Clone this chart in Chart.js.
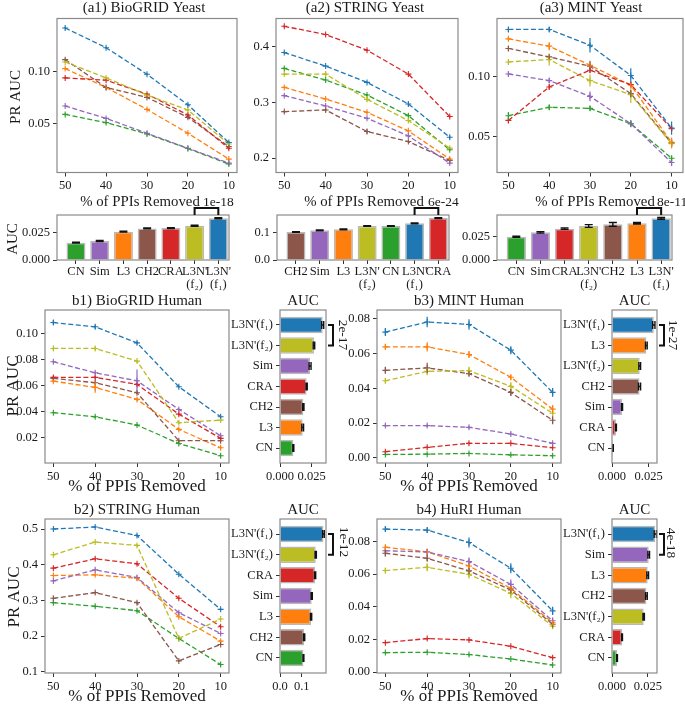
<!DOCTYPE html>
<html>
<head>
<meta charset="utf-8">
<script src="https://cdn.jsdelivr.net/npm/chart.js@4.4.0/dist/chart.umd.min.js"></script>
<style>
  body { margin: 0; background: #fff; }
  #fig { position: relative; width: 685px; height: 706px; }
  #fig canvas { position: absolute; left: 0; top: 0; }
</style>
</head>
<body>
<div id="fig"></div>
<script>
/* Datos */

const removedPct = [50, 40, 30, 20, 10];
// filas de cada matriz PR AUC: L3N'(f1), L3N'(f2), Sim, CRA, CH2, L3, CN
const methodKeys = ["L3N'(f1)", "L3N'(f2)", "Sim", "CRA", "CH2", "L3", "CN"];

const biogridYeastPR = [
  [0.141, 0.1223, 0.0972, 0.0682, 0.0324],
  [0.1088, 0.0937, 0.0774, 0.0632, 0.031],
  [0.067, 0.0553, 0.0412, 0.027, 0.0129],
  [0.0937, 0.0915, 0.0783, 0.0585, 0.027],
  [0.111, 0.0846, 0.0752, 0.0563, 0.0286],
  [0.1025, 0.0846, 0.0638, 0.0412, 0.0167],
  [0.0591, 0.0513, 0.0406, 0.0267, 0.012]
];
const biogridYeastErr = [
  [0.0012, 0.001, 0.001, 0.0012, 0.0012],
  [0.001, 0.0012, 0.001, 0.0012, 0.001],
  [0.0008, 0.0008, 0.0008, 0.0008, 0.0008],
  [0.001, 0.001, 0.001, 0.0015, 0.0012],
  [0.0012, 0.001, 0.001, 0.0015, 0.0015],
  [0.0008, 0.0008, 0.0008, 0.0008, 0.0008],
  [0.0008, 0.0008, 0.0008, 0.0008, 0.0008]
];
const stringYeastPR = [
  [0.3898, 0.3654, 0.3361, 0.2973, 0.2375],
  [0.351, 0.351, 0.3056, 0.2674, 0.2178],
  [0.3122, 0.2937, 0.2716, 0.2399, 0.1909],
  [0.437, 0.4221, 0.394, 0.351, 0.2746],
  [0.2835, 0.2865, 0.2477, 0.2297, 0.1957],
  [0.3271, 0.3062, 0.2823, 0.2489, 0.1981],
  [0.3612, 0.3403, 0.3134, 0.2763, 0.2148]
];
const stringYeastErr = [
  [0.002, 0.002, 0.002, 0.003, 0.003],
  [0.002, 0.004, 0.004, 0.003, 0.002],
  [0.002, 0.002, 0.002, 0.002, 0.002],
  [0.002, 0.002, 0.002, 0.002, 0.002],
  [0.002, 0.003, 0.004, 0.002, 0.002],
  [0.002, 0.002, 0.002, 0.002, 0.002],
  [0.002, 0.002, 0.002, 0.002, 0.002]
];
const mintYeastPR = [
  [0.1389, 0.1389, 0.1258, 0.1006, 0.0569],
  [0.1119, 0.1139, 0.0964, 0.0847, 0.0439],
  [0.1019, 0.0964, 0.0833, 0.0606, 0.0283],
  [0.0633, 0.0911, 0.105, 0.0931, 0.0564],
  [0.1231, 0.1161, 0.1083, 0.0856, 0.0444],
  [0.1311, 0.125, 0.1092, 0.0925, 0.045],
  [0.0672, 0.0742, 0.0733, 0.0606, 0.0319]
];
const mintYeastErr = [
  [0.002, 0.002, 0.006, 0.006, 0.0055],
  [0.002, 0.005, 0.005, 0.007, 0.004],
  [0.002, 0.002, 0.004, 0.003, 0.003],
  [0.002, 0.002, 0.002, 0.002, 0.002],
  [0.002, 0.002, 0.0045, 0.003, 0.003],
  [0.0017, 0.0033, 0.0022, 0.0022, 0.004],
  [0.003, 0.002, 0.002, 0.002, 0.002]
];
const biogridHumanPR = [
  [0.1084, 0.1051, 0.0928, 0.0591, 0.0361],
  [0.0885, 0.0885, 0.0788, 0.0315, 0.0335],
  [0.0783, 0.0698, 0.0637, 0.0417, 0.0215],
  [0.0663, 0.0663, 0.0609, 0.0381, 0.0195],
  [0.0655, 0.0622, 0.0545, 0.0177, 0.0177],
  [0.0634, 0.0586, 0.0494, 0.0264, 0.0123],
  [0.0392, 0.0361, 0.0297, 0.0156, 0.0062]
];
const biogridHumanErr = [
  [0.002, 0.0015, 0.0012, 0.001, 0.001],
  [0.0015, 0.0015, 0.001, 0.001, 0.001],
  [0.001, 0.001, 0.0087, 0.001, 0.001],
  [0.001, 0.001, 0.001, 0.001, 0.001],
  [0.001, 0.001, 0.001, 0.001, 0.001],
  [0.001, 0.004, 0.001, 0.001, 0.001],
  [0.0008, 0.0008, 0.0008, 0.0008, 0.0008]
];
const mintHumanPR = [
  [0.0723, 0.0781, 0.0767, 0.0619, 0.0376],
  [0.0443, 0.0497, 0.0501, 0.0411, 0.0256],
  [0.0185, 0.0185, 0.0175, 0.0137, 0.0083],
  [0.0035, 0.006, 0.0083, 0.0083, 0.0058],
  [0.0503, 0.0517, 0.0484, 0.0376, 0.0216],
  [0.0638, 0.0638, 0.0594, 0.0463, 0.028],
  [0.0019, 0.0021, 0.0025, 0.0017, 0.0012]
];
const mintHumanErr = [
  [0.0023, 0.003, 0.003, 0.0023, 0.0025],
  [0.0015, 0.0023, 0.0023, 0.0023, 0.002],
  [0.0008, 0.0008, 0.0008, 0.0008, 0.0008],
  [0.0005, 0.0005, 0.0005, 0.0005, 0.0005],
  [0.002, 0.003, 0.0015, 0.002, 0.0023],
  [0.0015, 0.0027, 0.002, 0.0015, 0.0023],
  [0.0005, 0.0005, 0.0005, 0.0005, 0.0005]
];
const stringHumanPR = [
  [0.5, 0.5056, 0.482, 0.3735, 0.2752],
  [0.4279, 0.4635, 0.4541, 0.1937, 0.248],
  [0.3548, 0.3857, 0.3642, 0.2658, 0.2077],
  [0.3904, 0.4166, 0.4026, 0.3061, 0.2265],
  [0.3061, 0.322, 0.2939, 0.1309, 0.1768],
  [0.3698, 0.3717, 0.3623, 0.2546, 0.1862],
  [0.2939, 0.2836, 0.2714, 0.1937, 0.1206]
];
const stringHumanErr = [
  [0.003, 0.003, 0.003, 0.003, 0.003],
  [0.003, 0.003, 0.003, 0.003, 0.003],
  [0.003, 0.003, 0.003, 0.003, 0.003],
  [0.003, 0.003, 0.003, 0.003, 0.003],
  [0.003, 0.003, 0.003, 0.003, 0.003],
  [0.003, 0.003, 0.003, 0.003, 0.003],
  [0.003, 0.003, 0.003, 0.003, 0.003]
];
const huriHumanPR = [
  [0.0876, 0.087, 0.0794, 0.0636, 0.0375],
  [0.0622, 0.0642, 0.0599, 0.0482, 0.0281],
  [0.0743, 0.0736, 0.0677, 0.0537, 0.0314],
  [0.018, 0.0205, 0.0197, 0.0158, 0.0088],
  [0.0728, 0.0697, 0.062, 0.0503, 0.0293],
  [0.0765, 0.0737, 0.065, 0.0513, 0.0302],
  [0.0119, 0.0121, 0.0107, 0.008, 0.0043]
];
const huriHumanErr = [
  [0.0016, 0.0016, 0.003, 0.003, 0.0025],
  [0.0016, 0.0025, 0.0025, 0.003, 0.0016],
  [0.002, 0.002, 0.0025, 0.003, 0.002],
  [0.0005, 0.0005, 0.0005, 0.0005, 0.0005],
  [0.002, 0.002, 0.002, 0.002, 0.002],
  [0.0015, 0.0015, 0.0015, 0.0015, 0.0015],
  [0.0005, 0.0005, 0.0005, 0.0005, 0.0005]
];

// AUC (barras)
const biogridYeastAucNames = ["CN", "Sim", "L3", "CH2", "CRA", "L3N'(f2)", "L3N'(f1)"];
const biogridYeastAuc = [0.0157, 0.0172, 0.0256, 0.0286, 0.0289, 0.031, 0.0377];
const biogridYeastAucErr = [0.0004, 0.0004, 0.0004, 0.0004, 0.0004, 0.0005, 0.0005];
const stringYeastAucNames = ["CH2", "Sim", "L3", "L3N'(f2)", "CN", "L3N'(f1)", "CRA"];
const stringYeastAuc = [0.1012, 0.1072, 0.1108, 0.1229, 0.1229, 0.1325, 0.1518];
const stringYeastAucErr = [0.0015, 0.0015, 0.0015, 0.0015, 0.0015, 0.0015, 0.0015];
const mintYeastAucNames = ["CN", "Sim", "CRA", "L3N'(f2)", "CH2", "L3", "L3N'(f1)"];
const mintYeastAuc = [0.025, 0.0296, 0.0336, 0.0364, 0.0382, 0.0393, 0.0446];
const mintYeastAucErr = [0.0006, 0.0008, 0.0008, 0.0015, 0.002, 0.0008, 0.001];
const biogridHumanAucNames = ["L3N'(f1)", "L3N'(f2)", "Sim", "CRA", "CH2", "L3", "CN"];
const biogridHumanAuc = [0.0337, 0.0268, 0.0237, 0.021, 0.0184, 0.0179, 0.0105];
const biogridHumanAucErr = [0.0008, 0.0006, 0.0008, 0.0005, 0.0005, 0.0007, 0.0004];
const mintHumanAucNames = ["L3N'(f1)", "L3", "L3N'(f2)", "CH2", "Sim", "CRA", "CN"];
const mintHumanAuc = [0.0285, 0.0234, 0.0189, 0.0188, 0.0068, 0.0027, 0.0007];
const mintHumanAucErr = [0.0008, 0.0006, 0.0006, 0.0007, 0.0004, 0.0003, 0.0002];
const stringHumanAucNames = ["L3N'(f1)", "L3N'(f2)", "CRA", "Sim", "L3", "CH2", "CN"];
const stringHumanAuc = [0.2, 0.1646, 0.1615, 0.146, 0.143, 0.111, 0.108];
const stringHumanAucErr = [0.004, 0.003, 0.003, 0.003, 0.003, 0.003, 0.002];
const huriHumanAucNames = ["L3N'(f1)", "Sim", "L3", "CH2", "L3N'(f2)", "CRA", "CN"];
const huriHumanAuc = [0.0302, 0.0256, 0.0249, 0.024, 0.0221, 0.007, 0.0035];
const huriHumanAucErr = [0.0008, 0.0006, 0.0006, 0.0006, 0.0005, 0.0003, 0.0003];

// ticks
const yeastSmallTicks = [0.05, 0.10];
const stringYeastTicks = [0.2, 0.3, 0.4];
const biogridHumanTicks = [0.02, 0.04, 0.06, 0.08, 0.10];
const humanSmallTicks = [0.00, 0.02, 0.04, 0.06, 0.08];
const stringHumanTicks = [0.1, 0.2, 0.3, 0.4, 0.5];
const aucSmallTicks = [0.000, 0.025];
const aucLargeTicks = [0.0, 0.1];

/* ============================== */

const W = 685, H = 706;
const YW = 40, XH = 26;
const FONT = 'Liberation Serif';
const methodColor = {
  "L3N'(f1)": '#1f77b4', "L3N'(f2)": '#bcbd22', "Sim": '#9467bd', "CRA": '#d62728',
  "CH2": '#8c564b', "L3": '#ff7f0e', "CN": '#2ca02c'
};

Chart.defaults.font.family = FONT;
Chart.defaults.font.size = 12;
Chart.defaults.color = '#1a1a1a';

let fig = document.getElementById('fig');

function addCanvas() {
  let c = document.createElement('canvas');
  c.width = W;
  c.height = H;
  fig.appendChild(c);
  return c;
}

function methodLabel(n) {
  return n.replace('(f1)', '(f\u2081)').replace('(f2)', '(f\u2082)');
}

function stackedLabel(n) {
  let l = methodLabel(n);
  return l.indexOf("L3N'(") === 0 ? ["L3N'", l.slice(4)] : l;
}

function drawText(ctx, t) {
  ctx.save();
  ctx.font = t.size + 'px "' + FONT + '"';
  ctx.fillStyle = '#1a1a1a';
  ctx.textAlign = t.align || 'center';
  ctx.textBaseline = 'middle';
  ctx.translate(t.x, t.y);
  if (t.rot) ctx.rotate(t.rot * Math.PI / 180);
  ctx.fillText(t.text, 0, 0);
  ctx.restore();
}

function framePlugin(texts, extra) {
  return {
    id: 'frame',
    afterDraw(chart) {
      let ctx = chart.ctx, a = chart.chartArea;
      ctx.save();
      ctx.strokeStyle = '#8a8a8a';
      ctx.lineWidth = 1.2;
      ctx.strokeRect(a.left, a.top, a.right - a.left, a.bottom - a.top);
      ctx.restore();
      texts.forEach(t => drawText(ctx, t));
      if (extra) extra(chart);
    }
  };
}

// barras de error
const errPlugin = {
  id: 'errbars',
  afterDatasetsDraw(chart) {
    let ctx = chart.ctx;
    let horiz = chart.options.indexAxis === 'y';
    chart.data.datasets.forEach((ds, i) => {
      if (!ds.err) return;
      let meta = chart.getDatasetMeta(i);
      let vs = chart.scales[horiz ? 'x' : 'y'];
      ctx.save();
      ctx.strokeStyle = ds.errColor || ds.borderColor;
      ctx.lineWidth = ds.errWidth || 1.2;
      meta.data.forEach((el, j) => {
        let p1 = vs.getPixelForValue(ds.vals[j] - ds.err[j]);
        let p2 = vs.getPixelForValue(ds.vals[j] + ds.err[j]);
        let c = ds.cap || 0;
        ctx.beginPath();
        if (horiz) {
          ctx.moveTo(p1, el.y); ctx.lineTo(p2, el.y);
          if (c) { ctx.moveTo(p1, el.y - c); ctx.lineTo(p1, el.y + c); ctx.moveTo(p2, el.y - c); ctx.lineTo(p2, el.y + c); }
        } else {
          ctx.moveTo(el.x, p1); ctx.lineTo(el.x, p2);
          if (c) { ctx.moveTo(el.x - c, p1); ctx.lineTo(el.x + c, p1); ctx.moveTo(el.x - c, p2); ctx.lineTo(el.x + c, p2); }
        }
        ctx.stroke();
      });
      ctx.restore();
    });
  }
};

function tickGrid() {
  return { display: true, drawOnChartArea: false, drawTicks: true, tickLength: 4, color: '#333', lineWidth: 1, offset: false };
}

function fixScale(size, horizontal) {
  return s => {
    if (horizontal) s.height = size; else s.width = size;
    s.paddingLeft = 0; s.paddingRight = 0; s.paddingTop = 0; s.paddingBottom = 0;
  };
}

function pad(box, yw, xh) {
  return { left: box.l - yw, right: W - box.r, top: box.t, bottom: H - box.b - xh };
}

function setTicks(values) {
  return s => { s.ticks = values.map(v => ({ value: v })); };
}

function lineChart(box, xlim, vals, errs, ylim, yTicks, dec, texts) {
  let datasets = methodKeys.map((m, i) => ({
    label: methodLabel(m),
    data: removedPct.map((x, j) => ({ x: x, y: vals[i][j] })),
    vals: vals[i],
    err: errs[i],
    borderColor: methodColor[m],
    backgroundColor: methodColor[m],
    borderWidth: 1.3,
    borderDash: [5, 2.5],
    pointStyle: 'cross',
    pointRadius: 3,
    pointBorderWidth: 1.1,
    tension: 0,
    fill: false
  }));
  new Chart(addCanvas(), {
    type: 'line',
    data: { datasets: datasets },
    options: {
      responsive: false,
      animation: false,
      layout: { autoPadding: false, padding: pad(box, YW, XH) },
      plugins: { legend: { display: false }, tooltip: { enabled: false } },
      scales: {
        x: {
          type: 'linear', reverse: true, min: xlim[0], max: xlim[1],
          afterBuildTicks: setTicks(removedPct),
          afterFit: fixScale(XH, true),
          grid: tickGrid(), border: { display: false },
          ticks: { font: { size: 12.5 }, padding: 2, maxRotation: 0, autoSkip: false }
        },
        y: {
          type: 'linear', min: ylim[0], max: ylim[1],
          afterBuildTicks: setTicks(yTicks),
          afterFit: fixScale(YW, false),
          grid: tickGrid(), border: { display: false },
          ticks: { font: { size: 12.5 }, padding: 3, callback: v => v.toFixed(dec) }
        }
      }
    },
    plugins: [framePlugin(texts), errPlugin]
  });
}

// barras verticales (fila superior) con corchete arriba
function barChartV(box, names, vals, errs, ymax, yTicks, dec, texts) {
  let bracket = chart => {
    let ctx = chart.ctx, a = chart.chartArea, sx = chart.scales.x;
    let x1 = sx.getPixelForValue(5), x2 = sx.getPixelForValue(6);
    ctx.save();
    ctx.strokeStyle = '#111';
    ctx.lineWidth = 2;
    ctx.beginPath();
    ctx.moveTo(x1, a.top); ctx.lineTo(x1, a.top - 7); ctx.lineTo(x2, a.top - 7); ctx.lineTo(x2, a.top);
    ctx.stroke();
    ctx.restore();
  };
  new Chart(addCanvas(), {
    type: 'bar',
    data: {
      datasets: [{
        data: vals.map((v, i) => ({ x: i, y: v })),
        vals: vals, err: errs, errColor: '#111', errWidth: 1.4, cap: 4,
        backgroundColor: names.map(n => methodColor[n]),
        borderColor: '#b8b8b8', borderWidth: 1.5,
        barPercentage: 0.8, categoryPercentage: 1
      }]
    },
    options: {
      responsive: false,
      animation: false,
      layout: { autoPadding: false, padding: pad(box, YW, 38) },
      plugins: { legend: { display: false }, tooltip: { enabled: false } },
      scales: {
        x: {
          type: 'linear', min: -0.8, max: 6.45, offset: false,
          afterBuildTicks: setTicks(names.map((n, i) => i)),
          afterFit: fixScale(38, true),
          grid: tickGrid(), border: { display: false },
          ticks: { font: { size: 12.5, lineHeight: 1.05 }, padding: 1, maxRotation: 0, autoSkip: false,
                   callback: v => stackedLabel(names[v]) }
        },
        y: {
          type: 'linear', min: 0, max: ymax,
          afterBuildTicks: setTicks(yTicks),
          afterFit: fixScale(YW, false),
          grid: tickGrid(), border: { display: false },
          ticks: { font: { size: 12.5 }, padding: 3, callback: v => v.toFixed(dec) }
        }
      }
    },
    plugins: [framePlugin(texts, bracket), errPlugin]
  });
}

// barras horizontales (filas inferiores) con corchete a la derecha
function barChartH(box, names, vals, errs, xmax, xTicks, dec, texts) {
  let bracket = chart => {
    let ctx = chart.ctx, a = chart.chartArea, sy = chart.scales.y;
    let y1 = sy.getPixelForValue(0), y2 = sy.getPixelForValue(1);
    ctx.save();
    ctx.strokeStyle = '#111';
    ctx.lineWidth = 2;
    ctx.beginPath();
    ctx.moveTo(a.right + 2, y1); ctx.lineTo(a.right + 7, y1); ctx.lineTo(a.right + 7, y2); ctx.lineTo(a.right + 2, y2);
    ctx.stroke();
    ctx.restore();
  };
  new Chart(addCanvas(), {
    type: 'bar',
    data: {
      datasets: [{
        data: vals.map((v, i) => ({ x: v, y: i })),
        vals: vals, err: errs, errColor: '#111', errWidth: 1.4, cap: 4,
        backgroundColor: names.map(n => methodColor[n]),
        borderColor: '#b8b8b8', borderWidth: 1.5,
        barPercentage: 0.8, categoryPercentage: 1
      }]
    },
    options: {
      indexAxis: 'y',
      responsive: false,
      animation: false,
      layout: { autoPadding: false, padding: pad(box, 80, XH) },
      plugins: { legend: { display: false }, tooltip: { enabled: false } },
      scales: {
        y: {
          type: 'linear', reverse: true, min: -0.73, max: 6.73, offset: false,
          afterBuildTicks: setTicks(names.map((n, i) => i)),
          afterFit: fixScale(80, false),
          grid: tickGrid(), border: { display: false },
          ticks: { font: { size: 12.5 }, padding: 3, autoSkip: false, callback: v => methodLabel(names[v]) }
        },
        x: {
          type: 'linear', min: 0, max: xmax,
          afterBuildTicks: setTicks(xTicks),
          afterFit: fixScale(XH, true),
          grid: tickGrid(), border: { display: false },
          ticks: { font: { size: 12.5 }, padding: 2, maxRotation: 0, callback: v => v.toFixed(dec) }
        }
      }
    },
    plugins: [framePlugin(texts, bracket), errPlugin]
  });
}

/* ============================== */

function cargar_figura() {
  // (a) fila superior
  lineChart({ l: 57, r: 237, t: 18.5, b: 172.5 }, [8, 52], biogridYeastPR, biogridYeastErr,
    [0.004, 0.150], yeastSmallTicks, 2, [
      { text: '(a1) BioGRID Yeast', x: 144, y: 8, size: 15 },
      { text: 'PR AUC', x: 16, y: 97, size: 15, rot: -90 },
      { text: '% of PPIs Removed', x: 140, y: 202, size: 14.8 }
    ]);
  lineChart({ l: 276, r: 458, t: 18.5, b: 172.5 }, [8, 52], stringYeastPR, stringYeastErr,
    [0.174, 0.451], stringYeastTicks, 1, [
      { text: '(a2) STRING Yeast', x: 365, y: 8, size: 15 },
      { text: '% of PPIs Removed', x: 364, y: 202, size: 14.8 }
    ]);
  lineChart({ l: 497, r: 683, t: 18.5, b: 172.5 }, [7.2, 52.8], mintYeastPR, mintYeastErr,
    [0.020, 0.148], yeastSmallTicks, 2, [
      { text: '(a3) MINT Yeast', x: 591, y: 8, size: 15 },
      { text: '% of PPIs Removed', x: 595, y: 202, size: 14.8 }
    ]);

  barChartV({ l: 57, r: 229, t: 215, b: 260 }, biogridYeastAucNames, biogridYeastAuc, biogridYeastAucErr,
    0.0407, aucSmallTicks, 3, [
      { text: 'AUC', x: 13, y: 239, size: 15, rot: -90 },
      { text: '1e-18', x: 203, y: 202, size: 13.5, align: 'left' }
    ]);
  barChartV({ l: 277, r: 449, t: 215, b: 260 }, stringYeastAucNames, stringYeastAuc, stringYeastAucErr,
    0.1627, aucLargeTicks, 1, [
      { text: '6e-24', x: 428, y: 202, size: 13.5, align: 'left' }
    ]);
  barChartV({ l: 497, r: 672, t: 215, b: 260 }, mintYeastAucNames, mintYeastAuc, mintYeastAucErr,
    0.0482, aucSmallTicks, 3, [
      { text: '8e-11', x: 657, y: 202, size: 13.5, align: 'left' }
    ]);

  // (b) filas inferiores
  lineChart({ l: 45, r: 229, t: 310, b: 463 }, [8, 52], biogridHumanPR, biogridHumanErr,
    [0.0006, 0.118], biogridHumanTicks, 2, [
      { text: 'b1) BioGRID Human', x: 137, y: 301, size: 15 },
      { text: 'PR AUC', x: 14, y: 386, size: 17, rot: -90 },
      { text: '% of PPIs Removed', x: 137, y: 487, size: 17 }
    ]);
  barChartH({ l: 280, r: 326, t: 310, b: 463 }, biogridHumanAucNames, biogridHumanAuc, biogridHumanAucErr,
    0.0363, aucSmallTicks, 3, [
      { text: 'AUC', x: 303, y: 301, size: 15 },
      { text: '2e-17', x: 343, y: 335, size: 13.5, rot: 90 }
    ]);
  lineChart({ l: 377, r: 561, t: 310, b: 463 }, [8, 52], mintHumanPR, mintHumanErr,
    [-0.003, 0.085], humanSmallTicks, 2, [
      { text: 'b3) MINT Human', x: 469, y: 301, size: 15 },
      { text: '% of PPIs Removed', x: 469, y: 487, size: 17 }
    ]);
  barChartH({ l: 612, r: 657, t: 310, b: 463 }, mintHumanAucNames, mintHumanAuc, mintHumanAucErr,
    0.0307, aucSmallTicks, 3, [
      { text: 'AUC', x: 634.5, y: 301, size: 15 },
      { text: '1e-27', x: 673, y: 335, size: 13.5, rot: 90 }
    ]);
  lineChart({ l: 45, r: 229, t: 519, b: 673 }, [8, 52], stringHumanPR, stringHumanErr,
    [0.097, 0.528], stringHumanTicks, 1, [
      { text: 'b2) STRING Human', x: 137, y: 510, size: 15 },
      { text: 'PR AUC', x: 15, y: 597, size: 17, rot: -90 },
      { text: '% of PPIs Removed', x: 137, y: 697, size: 17 }
    ]);
  barChartH({ l: 280, r: 326, t: 519, b: 673 }, stringHumanAucNames, stringHumanAuc, stringHumanAucErr,
    0.212, aucLargeTicks, 1, [
      { text: 'AUC', x: 303, y: 510, size: 15 },
      { text: '1e-12', x: 344, y: 542, size: 13.5, rot: 90 }
    ]);
  lineChart({ l: 377, r: 561, t: 519, b: 673 }, [8, 52], huriHumanPR, huriHumanErr,
    [-0.0006, 0.0938], humanSmallTicks, 2, [
      { text: 'b4) HuRI Human', x: 469, y: 510, size: 15 },
      { text: '% of PPIs Removed', x: 469, y: 697, size: 17 }
    ]);
  barChartH({ l: 612, r: 657, t: 519, b: 673 }, huriHumanAucNames, huriHumanAuc, huriHumanAucErr,
    0.0314, aucSmallTicks, 3, [
      { text: 'AUC', x: 634.5, y: 510, size: 15 },
      { text: '4e-18', x: 671, y: 543, size: 13.5, rot: 90 }
    ]);
}

cargar_figura();
</script>
</body>
</html>
